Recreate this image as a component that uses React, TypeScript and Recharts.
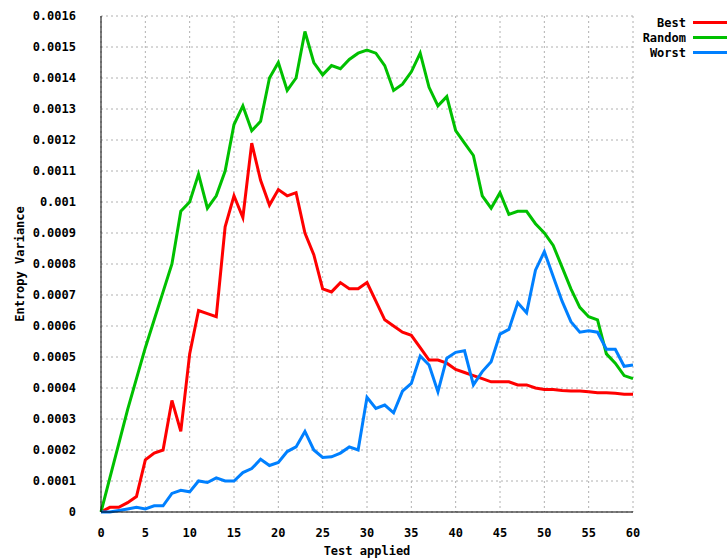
import React from 'react';
import { LineChart, Line, XAxis, YAxis, CartesianGrid, Legend } from 'recharts';

const tests = [0, 1, 2, 3, 4, 5, 6, 7, 8, 9, 10, 11, 12, 13, 14, 15, 16, 17, 18, 19, 20, 21, 22, 23, 24, 25, 26, 27, 28, 29, 30, 31, 32, 33, 34, 35, 36, 37, 38, 39, 40, 41, 42, 43, 44, 45, 46, 47, 48, 49, 50, 51, 52, 53, 54, 55, 56, 57, 58, 59, 60];

const best = [0, 0.000015, 0.000015, 0.00003, 0.00005, 0.000168, 0.00019, 0.0002, 0.00036, 0.00026, 0.00051, 0.00065, 0.00064, 0.00063, 0.00092, 0.00102, 0.00095, 0.00119, 0.00107, 0.00099, 0.00104, 0.00102, 0.00103, 0.0009, 0.00083, 0.00072, 0.00071, 0.00074, 0.00072, 0.00072, 0.00074, 0.00068, 0.00062, 0.0006, 0.00058, 0.00057, 0.00053, 0.00049, 0.00049, 0.00048, 0.00046, 0.00045, 0.00044, 0.00043, 0.00042, 0.00042, 0.00042, 0.00041, 0.00041, 0.0004, 0.000395, 0.000395, 0.000392, 0.00039, 0.00039, 0.000388, 0.000385, 0.000385, 0.000383, 0.00038, 0.00038];

const random = [0, 0.00011, 0.00022, 0.00033, 0.00043, 0.00053, 0.00062, 0.00071, 0.0008, 0.00097, 0.001, 0.00109, 0.00098, 0.00102, 0.0011, 0.00125, 0.00131, 0.00123, 0.00126, 0.0014, 0.00145, 0.00136, 0.0014, 0.00155, 0.00145, 0.00141, 0.00144, 0.00143, 0.00146, 0.00148, 0.00149, 0.00148, 0.00144, 0.00136, 0.00138, 0.00142, 0.00148, 0.00137, 0.00131, 0.00134, 0.00123, 0.00119, 0.00115, 0.00102, 0.00098, 0.00103, 0.00096, 0.00097, 0.00097, 0.00093, 0.0009, 0.00086, 0.00079, 0.00072, 0.00066, 0.00063, 0.00062, 0.00051, 0.00048, 0.00044, 0.00043];

const worst = [0, 0, 0.000005, 0.00001, 0.000015, 0.00001, 0.00002, 0.00002, 0.00006, 0.00007, 0.000065, 0.0001, 0.000095, 0.00011, 0.0001, 0.0001, 0.000127, 0.00014, 0.00017, 0.00015, 0.00016, 0.000195, 0.00021, 0.00026, 0.0002, 0.000176, 0.000178, 0.00019, 0.00021, 0.0002, 0.00037, 0.000334, 0.000345, 0.00032, 0.00039, 0.000415, 0.000503, 0.000474, 0.000388, 0.000496, 0.000515, 0.00052, 0.00041, 0.000453, 0.000485, 0.000574, 0.000589, 0.000675, 0.000643, 0.00078, 0.00084, 0.00076, 0.00068, 0.000614, 0.00058, 0.000585, 0.00058, 0.000525, 0.000525, 0.00047, 0.000474];

const xTicks = [0, 5, 10, 15, 20, 25, 30, 35, 40, 45, 50, 55, 60];
const yTicks = [0, 0.0001, 0.0002, 0.0003, 0.0004, 0.0005, 0.0006, 0.0007, 0.0008, 0.0009, 0.001, 0.0011, 0.0012, 0.0013, 0.0014, 0.0015, 0.0016];

const seriesNames = ['Best', 'Random', 'Worst'];
const seriesColors = ['#ff0000', '#00c000', '#0080ff'];
const seriesKeys = ['best', 'random', 'worst'];
const xLabel = 'Test applied';
const yLabel = 'Entropy Variance';

const rows = tests.map((t, i) => ({ x: t, best: best[i], random: random[i], worst: worst[i] }));

const FONT = '"DejaVu Sans Mono", "Liberation Mono", monospace';
const tickStyle = { fill: '#000', fontSize: 12, fontWeight: 'bold', fontFamily: FONT };

const LegendContent = (props: any) => {
  const payload = props.payload || [];
  return (
    <div style={{ fontFamily: FONT, fontWeight: 'bold', fontSize: 12, color: '#000' }}>
      {payload.map((p: any) => (
        <div key={p.value} style={{ display: 'flex', alignItems: 'center', justifyContent: 'flex-end', height: 15 }}>
          <span>{p.value}</span>
          <span style={{ display: 'inline-block', width: 34, height: 3, background: p.color, marginLeft: 7 }} />
        </div>
      ))}
    </div>
  );
};

export default function App() {
  return (
    <div style={{ position: 'absolute', left: 0, top: 0, width: 727, height: 558, background: '#fff' }}>
      <LineChart width={727} height={558} data={rows} margin={{ top: 16, right: 94, bottom: 0, left: 0 }}>
        <CartesianGrid stroke="#b0b0b0" strokeDasharray="2 3" strokeWidth={1} />
        <XAxis
          dataKey="x"
          type="number"
          domain={[0, 60]}
          ticks={xTicks}
          interval={0}
          height={46}
          tickLine={false}
          tickMargin={10}
          axisLine={{ stroke: '#000' }}
          tick={tickStyle}
          label={{ value: xLabel, position: 'insideBottom', offset: 3, fill: '#000', fontSize: 12, fontWeight: 'bold', fontFamily: FONT }}
        />
        <XAxis xAxisId="topTicks" orientation="top" dataKey="x" type="number" domain={[0, 60]} ticks={xTicks} interval={0} mirror height={0} tick={false} tickSize={6} axisLine={{ stroke: '#000' }} tickLine={{ stroke: '#000' }} />
        <XAxis xAxisId="bottomTicks" orientation="bottom" dataKey="x" type="number" domain={[0, 60]} ticks={xTicks} interval={0} mirror height={0} tick={false} tickSize={6} axisLine={false} tickLine={{ stroke: '#000' }} />
        <YAxis
          type="number"
          domain={[0, 0.0016]}
          ticks={yTicks}
          interval={0}
          width={101}
          tickLine={false}
          tickMargin={19}
          axisLine={{ stroke: '#000' }}
          tick={tickStyle}
          tickFormatter={(v: number) => String(v)}
          label={{ value: yLabel, angle: -90, position: 'insideLeft', offset: 20, textAnchor: 'middle', fill: '#000', fontSize: 12, fontWeight: 'bold', fontFamily: FONT }}
        />
        <YAxis yAxisId="leftTicks" type="number" domain={[0, 0.0016]} ticks={yTicks} interval={0} mirror width={0} tick={false} tickSize={6} axisLine={false} tickLine={{ stroke: '#000' }} />
        <YAxis yAxisId="rightTicks" orientation="right" type="number" domain={[0, 0.0016]} ticks={yTicks} interval={0} mirror width={0} tick={false} tickSize={6} axisLine={{ stroke: '#000' }} tickLine={{ stroke: '#000' }} />
        <Legend
          layout="vertical"
          align="center"
          verticalAlign="middle"
          content={<LegendContent />}
          wrapperStyle={{ position: 'absolute', left: 600, top: 15, width: 127, height: 45 }}
        />
        {seriesKeys.map((k, i) => (
          <Line
            key={k}
            dataKey={k}
            name={seriesNames[i]}
            stroke={seriesColors[i]}
            strokeWidth={3}
            dot={false}
            activeDot={false}
            isAnimationActive={false}
          />
        ))}
      </LineChart>
    </div>
  );
}
